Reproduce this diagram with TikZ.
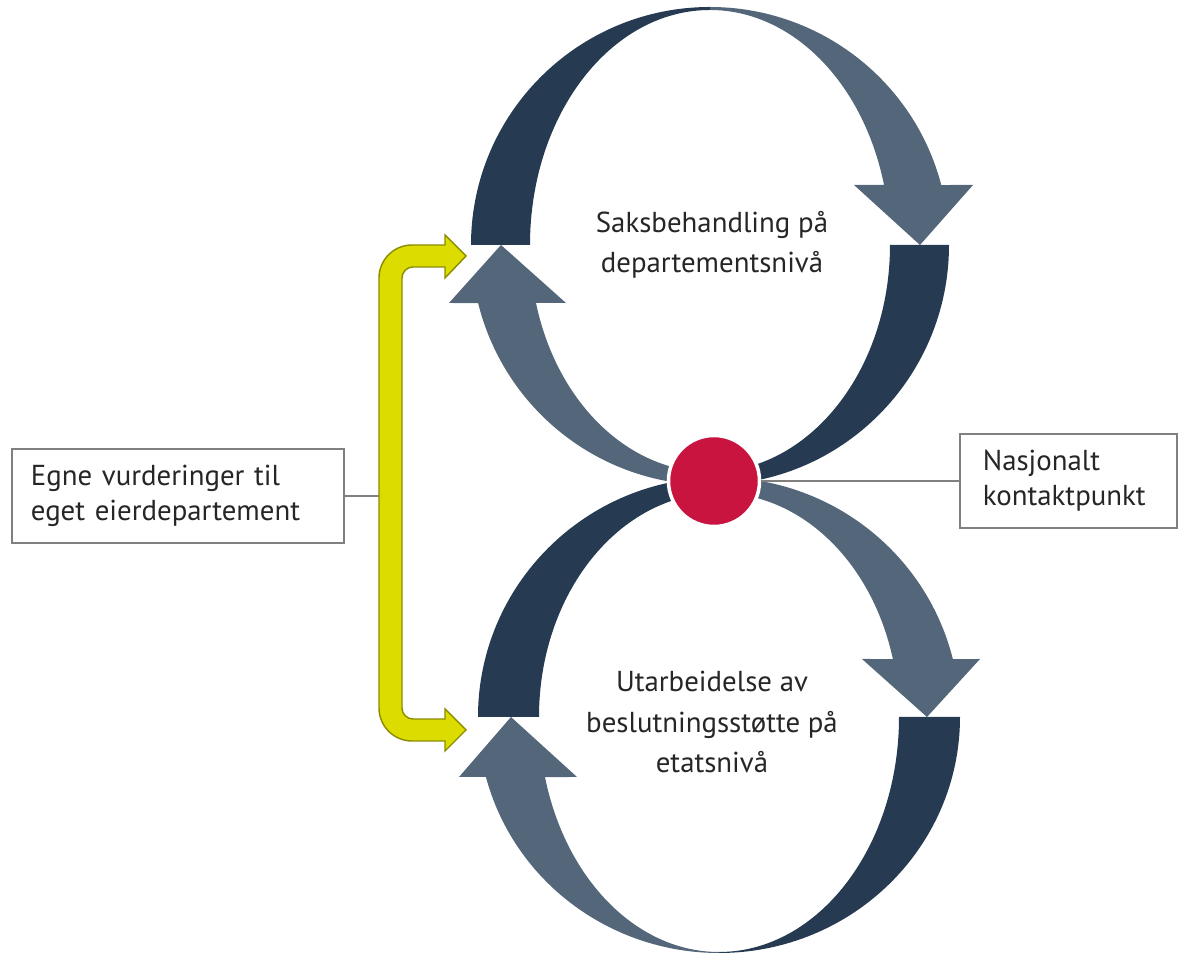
\documentclass[tikz,border=0pt]{standalone}
\usepackage{fontspec}
\setmainfont{PT Sans}
\usetikzlibrary{calc,positioning}
\definecolor{navy}{HTML}{263B52}
\definecolor{slate}{HTML}{546679}
\definecolor{signal}{HTML}{C8143F}
\definecolor{lime}{HTML}{DCDC00}
\definecolor{olive}{HTML}{8C8C00}

\begin{document}
\begin{tikzpicture}[x=0.01cm,y=0.01cm,
darkband/.style={fill=navy},
slateband/.style={fill=slate},
hub/.style={circle, fill=signal, draw=white, line width=1pt,
	minimum size=0.91cm, inner sep=0pt},
level/.style={align=center, text=black!85,
	font=\fontsize{8.2}{11.5}\selectfont},
note/.style={rectangle, draw=black!50, line width=0.5pt, fill=white,
	align=left, text=black!85, minimum height=0.94cm,
	font=\fontsize{8.2}{10}\selectfont},
link/.style={draw=black!50, line width=0.5pt},
bracket/.style={fill=lime, draw=olive, line width=0.4pt},
]
\useasboundingbox (0,0) rectangle (1178,957);
\coordinate (C1) at (710,712);
\coordinate (C2) at (719,240);

% upper loop
\fill[darkband] ($(C1)+(180:239 and 238)$) arc[start angle=180, end angle=90, x radius=239, y radius=238]
    -- ($(C1)+(90:180 and 235)$) arc[start angle=90, end angle=180, x radius=180, y radius=235] -- cycle;
\fill[slateband] ($(C1)+(90:239 and 238)$) arc[start angle=90, end angle=14.6, x radius=239, y radius=238]
    -- (973,772) -- (920,712) -- (854,772)
    -- ($(C1)+(14.8:180 and 235)$) arc[start angle=14.8, end angle=90, x radius=180, y radius=235] -- cycle;
\fill[darkband] ($(C1)+(0:239 and 240)$) arc[start angle=0, end angle=-90, x radius=239, y radius=240]
    -- ($(C1)+(-90:180 and 227)$) arc[start angle=-90, end angle=0, x radius=180, y radius=227] -- cycle;
\fill[slateband] ($(C1)+(270:239 and 240)$) arc[start angle=270, end angle=194, x radius=239, y radius=240]
    -- (449,654) -- (501,712) -- (566,654)
    -- ($(C1)+(194.8:180 and 227)$) arc[start angle=194.8, end angle=270, x radius=180, y radius=227] -- cycle;

% lower loop
\fill[darkband] ($(C2)+(180:241 and 239.5)$) arc[start angle=180, end angle=90, x radius=241, y radius=239.5]
    -- ($(C2)+(90:180 and 224)$) arc[start angle=90, end angle=180, x radius=180, y radius=224] -- cycle;
\fill[slateband] ($(C2)+(90:241 and 239.5)$) arc[start angle=90, end angle=14, x radius=241, y radius=239.5]
    -- (980,298) -- (927,240) -- (862,298)
    -- ($(C2)+(15:180 and 224)$) arc[start angle=15, end angle=90, x radius=180, y radius=224] -- cycle;
\fill[darkband] ($(C2)+(0:241 and 236)$) arc[start angle=0, end angle=-90, x radius=241, y radius=236]
    -- ($(C2)+(-90:180 and 235)$) arc[start angle=-90, end angle=0, x radius=180, y radius=235] -- cycle;
\fill[slateband] ($(C2)+(270:241 and 236)$) arc[start angle=270, end angle=194.7, x radius=241, y radius=236]
    -- (459,180) -- (511,240) -- (577,180)
    -- ($(C2)+(194.8:180 and 235)$) arc[start angle=194.8, end angle=270, x radius=180, y radius=235] -- cycle;

% yellow bracket
\filldraw[bracket] (445,722) -- (466,701) -- (445,679) -- (445,690) -- (413,690)
    arc[start angle=90, end angle=180, radius=11] -- (402,249)
    arc[start angle=180, end angle=270, radius=11] -- (445,238) -- (445,248) -- (466,227)
    -- (445,206) -- (445,216) -- (412,216)
    arc[start angle=270, end angle=180, radius=33] -- (379,679)
    arc[start angle=180, end angle=90, radius=33] -- (445,712) -- cycle;

\node[hub] (kontakt) at (714,476) {};
\node[level] (dept) at (712,712) {Saksbehandling på\\departementsnivå};
\node[level] (etat) at (712,235) {Utarbeidelse av\\beslutningsstøtte på\\etatsnivå};

\node[note, text width=2.94cm, inner xsep=0.19cm] (egne) at (178,461)
    {Egne vurderinger til\\eget eierdepartement};
\node[note, text width=1.71cm, inner xsep=0.23cm, anchor=west] (nkp) at (959,476)
    {Nasjonalt\\kontaktpunkt};
\coordinate (barleft) at (379,461);

\draw[link] (egne.east) -- (barleft);
\draw[link] (kontakt.east) -- (nkp.west);
\end{tikzpicture}
\end{document}
